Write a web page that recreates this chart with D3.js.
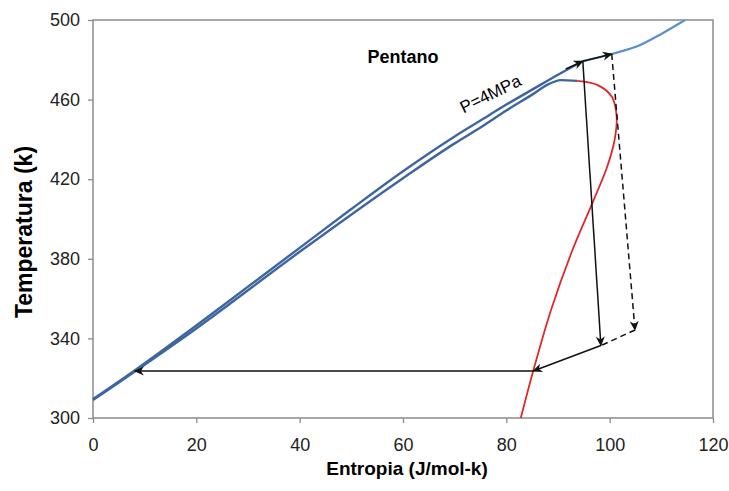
<!DOCTYPE html>
<html>
<head>
<meta charset="utf-8">
<script src="https://cdn.jsdelivr.net/npm/d3@7"></script>
<style>
  body { margin: 0; background: #fff; }
  svg { font-family: "Liberation Sans", Arial, sans-serif; }
  .axis text { font-size: 18px; fill: #222; }
  .axis line { stroke: #8c8c8c; stroke-width: 1.3; }
</style>
</head>
<body>
<svg id="ts"></svg>
<script>
// isobar P=4MPa (entropy, temperature)
let isoS = [0, 8, 20, 30, 40, 50, 60, 70, 75, 80, 85, 90, 94.8, 100.4, 105.9, 110, 114.6];
let isoT = [309.5, 323.8, 346.5, 366, 385.5, 405, 424, 441.5, 449.5, 457.5, 465, 472.5, 479.3, 482.9, 487.4, 493, 500];

// saturated liquid (blue) and saturated vapour (red)
let liqS = [0, 20, 40, 60, 70, 75, 80, 85, 88, 90.5, 93.7];
let liqT = [309, 345, 383.5, 420.5, 438, 446, 454.5, 462.5, 467.5, 469.8, 469.4];
let vapS = [93.7, 97.7, 100.45, 101.35, 100.95, 99.5, 96.9, 92.8, 88.65, 85.25, 82.8];
let vapT = [469.4, 467.3, 461.3, 451.3, 439.7, 426.1, 409.5, 384.4, 354.3, 324.1, 300];

// cycle states
let cycS = {A: 8.1, B: 94.8, C: 100.4, D: 98.3, E: 104.9, F: 85.2};
let cycT = {A: 323.6, B: 479.3, C: 482.9, D: 336.4, E: 344.2, F: 323.6};

let xTicks = [0, 20, 40, 60, 80, 100, 120];
let yTicks = [300, 340, 380, 420, 460, 500];

let config = {svg: {}, plot: {}};
config.svg.width = 729;
config.svg.height = 491;
config.plot.x = 93;
config.plot.y = 20;
config.plot.width = 620;
config.plot.height = 398;

let svg = d3.select('svg#ts')
  .attr('width', config.svg.width)
  .attr('height', config.svg.height);

let plot = svg.append('g')
  .attr('transform', translate(config.plot.x, config.plot.y));

let scale = {};
scale.x = d3.scaleLinear().domain([0, 120]).range([0, config.plot.width]);
scale.y = d3.scaleLinear().domain([300, 500]).range([config.plot.height, 0]);

// axes
let gx = plot.append('g').attr('class', 'axis')
  .attr('transform', translate(0, config.plot.height))
  .call(d3.axisBottom(scale.x).tickValues(xTicks).tickSize(5).tickPadding(15));
let gy = plot.append('g').attr('class', 'axis')
  .call(d3.axisLeft(scale.y).tickValues(yTicks).tickSize(5).tickPadding(8));
gx.select('.domain').remove();
gy.select('.domain').remove();

plot.append('rect')
  .attr('width', config.plot.width)
  .attr('height', config.plot.height)
  .attr('fill', 'none')
  .attr('stroke', '#8c8c8c')
  .attr('stroke-width', 1.5);

// arrow marker
let defs = svg.append('defs');
defs.append('marker')
  .attr('id', 'arrow')
  .attr('viewBox', '0 0 10 10')
  .attr('refX', 9).attr('refY', 5)
  .attr('markerUnits', 'userSpaceOnUse')
  .attr('markerWidth', 11).attr('markerHeight', 10)
  .attr('orient', 'auto')
  .append('path')
  .attr('d', 'M0,0.5 L10,5 L0,9.5 L3,5 z')
  .attr('fill', '#111');

let smooth = d3.line()
  .x(d => scale.x(d[0]))
  .y(d => scale.y(d[1]))
  .curve(d3.curveMonotoneX);

let loop = d3.line()
  .x(d => scale.x(d[0]))
  .y(d => scale.y(d[1]))
  .curve(d3.curveCatmullRom.alpha(0.5));

let iso = isoS.map((s, i) => [s, isoT[i]]);
let liq = liqS.map((s, i) => [s, liqT[i]]);
let vap = vapS.map((s, i) => [s, vapT[i]]);

// isobar: light blue beyond state B, darker before
plot.append('path').datum(iso.filter(d => d[0] >= cycS.B))
  .attr('d', smooth).attr('fill', 'none')
  .attr('stroke', '#5b8fd0').attr('stroke-width', 2.2);
plot.append('path').datum(iso.filter(d => d[0] <= cycS.B))
  .attr('d', smooth).attr('fill', 'none')
  .attr('stroke', '#3f65a0').attr('stroke-width', 2.4);

plot.append('path').datum(liq)
  .attr('d', smooth).attr('fill', 'none')
  .attr('stroke', '#3f65a0').attr('stroke-width', 2.4);
plot.append('path').datum(vap)
  .attr('d', loop).attr('fill', 'none')
  .attr('stroke', '#e02828').attr('stroke-width', 1.8);

// cycle arrows
function arrow(p, q, dashed) {
  let a = plot.append('line')
    .attr('x1', scale.x(cycS[p])).attr('y1', scale.y(cycT[p]))
    .attr('x2', scale.x(cycS[q])).attr('y2', scale.y(cycT[q]))
    .attr('stroke', '#111').attr('stroke-width', 1.5);
  if (dashed) a.attr('stroke-dasharray', '6,4');
  return a;
}
arrow('B', 'C').attr('marker-end', 'url(#arrow)');
arrow('B', 'D').attr('marker-end', 'url(#arrow)');
arrow('C', 'E', true).attr('marker-end', 'url(#arrow)');
arrow('E', 'D', true);
arrow('D', 'F').attr('marker-end', 'url(#arrow)');
arrow('F', 'A').attr('marker-end', 'url(#arrow)');

// arrowhead at the end of heating along the isobar
plot.append('path')
  .datum([[91.5, 475.4], [cycS.B, cycT.B]])
  .attr('d', d3.line().x(d => scale.x(d[0])).y(d => scale.y(d[1])))
  .attr('stroke', '#111').attr('stroke-width', 1.5)
  .attr('marker-end', 'url(#arrow)');

// labels
svg.append('text')
  .attr('x', 403).attr('y', 63)
  .attr('text-anchor', 'middle')
  .style('font-weight', 700).style('font-size', '18px')
  .text('Pentano');

svg.append('text')
  .attr('transform', 'translate(493,99) rotate(-26)')
  .attr('text-anchor', 'middle')
  .style('font-size', '17px')
  .text('P=4MPa');

svg.append('text')
  .attr('x', 407).attr('y', 475)
  .attr('text-anchor', 'middle')
  .style('font-weight', 700).style('font-size', '19px')
  .text('Entropia (J/mol-k)');

svg.append('text')
  .attr('transform', 'translate(32,232) rotate(-90)')
  .attr('text-anchor', 'middle')
  .style('font-weight', 700).style('font-size', '23px')
  .text('Temperatura (k)');

function translate(x, y) {
  return 'translate(' + x + ',' + y + ')';
}
</script>
</body>
</html>
